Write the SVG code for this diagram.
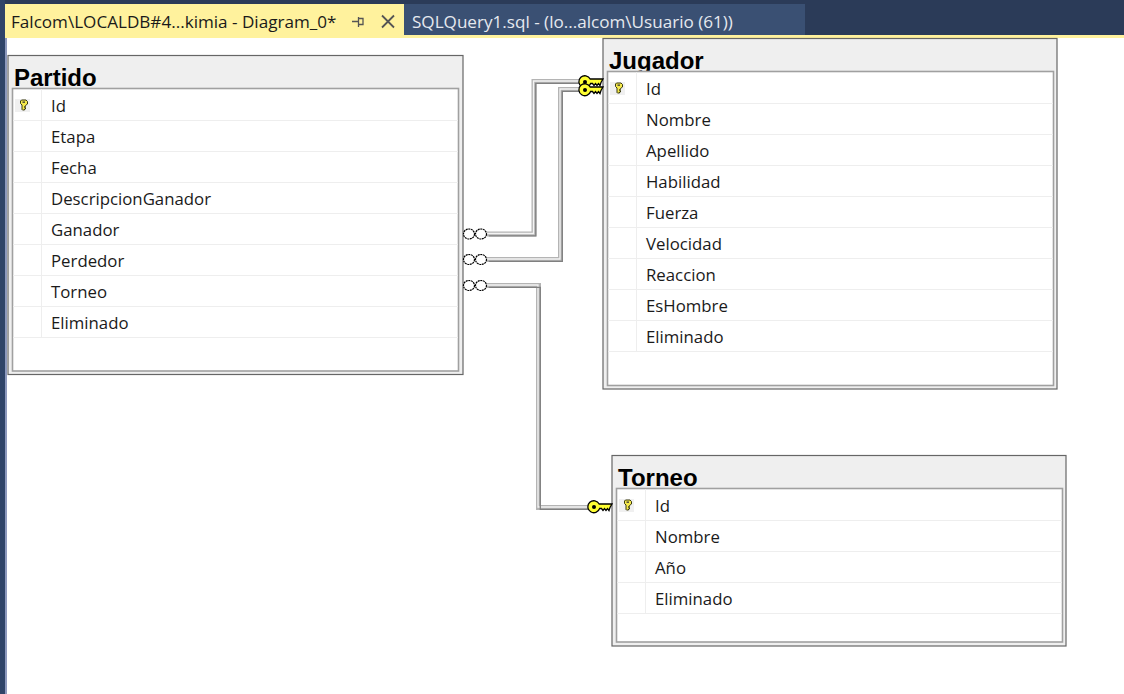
<svg xmlns="http://www.w3.org/2000/svg" width="1124" height="694" viewBox="0 0 1124 694">
<style>
text{font-family:"Open Sans","Noto Sans","Liberation Sans",sans-serif}
.tab{font-size:17.100px}
.title{font-size:24px;font-weight:700;fill:#000;font-family:"Liberation Sans",Arial,sans-serif}
.col{font-size:16.800px;fill:#1a1a1a}
.outer{fill:#efefef;stroke:#666;stroke-width:1.200}
.inner{fill:#fff;stroke:#a0a0a0;stroke-width:1.600}
.grid{stroke:#eeeeee;stroke-width:1;fill:none}
.c1{fill:none;stroke:#b4b4b4;stroke-width:5}
.c2{fill:none;stroke:#f4f4f4;stroke-width:1.300;transform:translate(-.5px,-.5px)}
.c3{fill:none;stroke:#808080;stroke-width:1.300;transform:translate(1.800px,1.800px)}
.ring{fill:#fff;stroke:#000;stroke-width:1.200;stroke-dasharray:2 .6}
.bigkey{fill:#ffff33;stroke:#000;stroke-width:1.300}
.kbg{fill:#f0f0f0}
</style>
<defs>
<g id="pk">
<rect class="kbg" x="-9" y="-6" width="15" height="13"/>
<path d="M-2.500 -5h4.500l1.500 1.500v2.500l-2 1.500v1h-1v1h1v1.500h-1v1h-2l-.5 -.5v-4.500l-1.500-1.500v-2.500z" fill="#f5e94a" stroke="#3a3a10" stroke-width="1"/>
<rect x="-1.500" y="-3.500" width="2.500" height="1.300" fill="#333"/>
</g>
<g id="fk">
<path class="bigkey" d="M5.200 -3H18L16 .5 15 3.500 13.500 1.500 12 3.500 10.500 1.500 9 3.500 7.500 1.500H5.600A6 6 0 1 1 5.200 -3z"/>
<circle cx="0" cy="0" r="2" fill="#000"/>
</g>
</defs>
<rect width="1124" height="694" fill="#fff"/>
<g id="chrome">
<rect x="0" y="0" width="1124" height="35" fill="#2b3b58"/>
<rect x="0" y="0" width="5" height="694" fill="#2f4468"/>
<rect x="5" y="38" width="2" height="656" fill="#8d99bd"/>
<rect x="5" y="35" width="1119" height="3" fill="#fff29d"/>
<rect x="5" y="4" width="399" height="34" fill="#fff29d"/>
<rect x="404" y="4" width="401" height="31" fill="#3a5073"/>
<text x="11" y="28" class="tab" fill="#1a1a1a">Falcom\LOCALDB#4...kimia - Diagram_0*</text>
<text x="412" y="28" class="tab" fill="#e6e9ef">SQLQuery1.sql - (lo...alcom\Usuario (61))</text>
<path d="M352 21.500h6M358.500 17v10M358.500 18.500h4.500v6h-4.500" fill="none" stroke="#555" stroke-width="1.300"/>
<path d="M382 15.500l12 12M394 15.500l-12 12" fill="none" stroke="#555" stroke-width="1.800"/>
</g>
<g id="connectors">
<path class="c1" d="M487 234H534V81.500H582"/><path class="c2" d="M487 234H534V81.500H582"/><path class="c3" d="M487 234H534V81.500H582"/>
<path class="c1" d="M487 259.500H560.500V89.500H582"/><path class="c2" d="M487 259.500H560.500V89.500H582"/><path class="c3" d="M487 259.500H560.500V89.500H582"/>
<path class="c1" d="M487 285.500H538.500V507.500H590"/><path class="c2" d="M487 285.500H538.500V507.500H590"/><path class="c3" d="M487 285.500H538.500V507.500H590"/>
</g>
<g id="partido">
<rect class="outer" x="8" y="55.500" width="455" height="319"/>
<text x="14" y="86" class="title">Partido</text>
<rect class="inner" x="12.500" y="88.500" width="446" height="282.500"/>
<path class="grid" d="M13 120.500H458M13 151.500H458M13 182.500H458M13 213.500H458M13 244.500H458M13 275.500H458M13 306.500H458M13 337.500H458M41.500 89V337"/>
<use href="#pk" x="24" y="105"/>
<text x="51" y="112" class="col">Id</text><text x="51" y="143" class="col">Etapa</text><text x="51" y="174" class="col">Fecha</text><text x="51" y="205" class="col">DescripcionGanador</text><text x="51" y="236" class="col">Ganador</text><text x="51" y="267" class="col">Perdedor</text><text x="51" y="298" class="col">Torneo</text><text x="51" y="329" class="col">Eliminado</text>
</g>
<g id="jugador">
<rect class="outer" x="603" y="38.500" width="454" height="350.500"/>
<text x="609" y="69" class="title">Jugador</text>
<rect class="inner" x="607.500" y="71.500" width="446" height="314"/>
<path class="grid" d="M608 103.500H1053M608 134.500H1053M608 165.500H1053M608 196.500H1053M608 227.500H1053M608 258.500H1053M608 289.500H1053M608 320.500H1053M608 351.500H1053M636.500 72V351"/>
<use href="#pk" x="619" y="88"/>
<text x="646" y="95" class="col">Id</text><text x="646" y="126" class="col">Nombre</text><text x="646" y="157" class="col">Apellido</text><text x="646" y="188" class="col">Habilidad</text><text x="646" y="219" class="col">Fuerza</text><text x="646" y="250" class="col">Velocidad</text><text x="646" y="281" class="col">Reaccion</text><text x="646" y="312" class="col">EsHombre</text><text x="646" y="343" class="col">Eliminado</text>
</g>
<g id="torneo">
<rect class="outer" x="612" y="455.500" width="454" height="190.500"/>
<text x="618" y="486" class="title">Torneo</text>
<rect class="inner" x="616.500" y="488.500" width="446" height="153.500"/>
<path class="grid" d="M617 520.500H1062M617 551.500H1062M617 582.500H1062M617 613.500H1062M645.500 489V613"/>
<use href="#pk" x="628" y="505"/>
<text x="655" y="512" class="col">Id</text><text x="655" y="543" class="col">Nombre</text><text x="655" y="574" class="col">Año</text><text x="655" y="605" class="col">Eliminado</text>
</g>
<g id="ends">
<ellipse class="ring" cx="469" cy="234" rx="5.500" ry="5"/><ellipse class="ring" cx="481" cy="234" rx="5.500" ry="5"/>
<ellipse class="ring" cx="469" cy="259.500" rx="5.500" ry="5"/><ellipse class="ring" cx="481" cy="259.500" rx="5.500" ry="5"/>
<ellipse class="ring" cx="469" cy="285.500" rx="5.500" ry="5"/><ellipse class="ring" cx="481" cy="285.500" rx="5.500" ry="5"/>
<use href="#fk" x="585" y="82"/>
<use href="#fk" x="585" y="90"/>
<use href="#fk" x="594" y="507"/>
</g>
</svg>
